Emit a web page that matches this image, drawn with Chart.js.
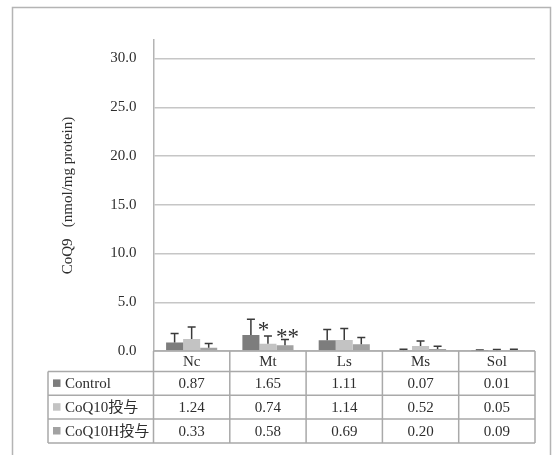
<!DOCTYPE html>
<html>
<head>
<meta charset="utf-8">
<script src="https://cdn.jsdelivr.net/npm/chart.js@4/dist/chart.umd.min.js"></script>
<style>
    html, body { margin: 0; padding: 0; background: #fff; }
    canvas { display: block; }
</style>
</head>
<body>
<canvas id="chart" width="553" height="455"></canvas>
<script>
const categories = ['Nc', 'Mt', 'Ls', 'Ms', 'Sol'];
const seriesNames = ['Control', 'CoQ10投与', 'CoQ10H投与'];
const controlValues = [0.87, 1.65, 1.11, 0.07, 0.01];
const coq10Values = [1.24, 0.74, 1.14, 0.52, 0.05];
const coq10hValues = [0.33, 0.58, 0.69, 0.20, 0.09];
// upper error bars (SD)
const controlErrors = [0.92, 1.61, 1.09, 0.10, 0.08];
const coq10Errors = [1.23, 0.80, 1.16, 0.51, 0.10];
const coq10hErrors = [0.43, 0.59, 0.69, 0.28, 0.10];
const yTicks = [0, 5, 10, 15, 20, 25, 30];
const significance = [
    { category: 'Mt', series: 1, text: '*' },
    { category: 'Mt', series: 2, text: '**' }
];

const SERIF = "'Liberation Serif', 'Noto Sans CJK JP', serif";
const TEXT_COLOR = '#2e2e2e';
const LINE_COLOR = '#a9a9a9';

const errorSets = [controlErrors, coq10Errors, coq10hErrors];

const framePlugin = {
    id: 'frame',
    beforeDraw(chart) {
        const ctx = chart.ctx;
        ctx.save();
        ctx.fillStyle = '#fff';
        ctx.fillRect(0, 0, chart.width, chart.height);
        ctx.strokeStyle = '#b4b4b4';
        ctx.lineWidth = 1.5;
        ctx.strokeRect(12.5, 7.5, 538, 470);
        ctx.restore();
    }
};

const errorBarPlugin = {
    id: 'errorBars',
    afterDatasetsDraw(chart) {
        const ctx = chart.ctx;
        const y = chart.scales.y;
        ctx.save();
        ctx.strokeStyle = '#3a3a3a';
        ctx.lineWidth = 1.5;
        chart.data.datasets.forEach((ds, di) => {
            const meta = chart.getDatasetMeta(di);
            meta.data.forEach((bar, i) => {
                const top = y.getPixelForValue(ds.data[i] + errorSets[di][i]);
                ctx.beginPath();
                ctx.moveTo(bar.x, bar.y);
                ctx.lineTo(bar.x, top);
                ctx.moveTo(bar.x - 4, top);
                ctx.lineTo(bar.x + 4, top);
                ctx.stroke();
            });
        });

        // significance marks next to the Mt bars
        ctx.fillStyle = TEXT_COLOR;
        ctx.font = '23px ' + SERIF;
        ctx.textAlign = 'center';
        ctx.textBaseline = 'alphabetic';
        significance.forEach(s => {
            const i = categories.indexOf(s.category);
            const bar = chart.getDatasetMeta(s.series).data[i];
            const top = y.getPixelForValue(chart.data.datasets[s.series].data[i] + errorSets[s.series][i]);
            if (s.text === '*') {
                ctx.fillText(s.text, bar.x - 4.5, top + 1.5);
            } else {
                ctx.fillText(s.text, bar.x + 2.5, top + 4.5);
            }
        });
        ctx.restore();
    }
};

const dataTablePlugin = {
    id: 'dataTable',
    afterDraw(chart) {
        const ctx = chart.ctx;
        const x = chart.scales.x;
        const area = chart.chartArea;
        const catW = (area.right - area.left) / categories.length;
        const headerBottom = area.bottom + 20.5;
        const rowH = 23.8;
        const tableBottom = headerBottom + rowH * seriesNames.length;
        const labelLeft = 48;

        ctx.save();
        ctx.strokeStyle = LINE_COLOR;
        ctx.lineWidth = 1.5;
        ctx.beginPath();
        for (let i = 0; i <= categories.length; i++) {
            const cx = area.left + catW * i;
            ctx.moveTo(cx, area.bottom);
            ctx.lineTo(cx, tableBottom);
        }
        ctx.moveTo(labelLeft, headerBottom);
        ctx.lineTo(labelLeft, tableBottom);
        ctx.moveTo(area.left, area.bottom);
        ctx.lineTo(area.right, area.bottom);
        for (let r = 0; r <= seriesNames.length; r++) {
            const ry = headerBottom + rowH * r;
            ctx.moveTo(labelLeft, ry);
            ctx.lineTo(area.right, ry);
        }
        ctx.stroke();

        ctx.fillStyle = TEXT_COLOR;
        ctx.font = '15px ' + SERIF;
        ctx.textBaseline = 'middle';
        ctx.textAlign = 'center';
        categories.forEach((c, i) => {
            ctx.fillText(c, x.getPixelForValue(i), (area.bottom + headerBottom) / 2 + 1);
        });

        chart.data.datasets.forEach((ds, r) => {
            const cy = headerBottom + rowH * r + rowH / 2 + 1;
            ctx.textAlign = 'center';
            ctx.fillStyle = TEXT_COLOR;
            ds.data.forEach((v, i) => {
                ctx.fillText(v.toFixed(2), x.getPixelForValue(i), cy);
            });
            ctx.fillStyle = ds.backgroundColor;
            ctx.fillRect(53, cy - 5, 7.5, 7.5);
            ctx.fillStyle = TEXT_COLOR;
            ctx.textAlign = 'left';
            ctx.fillText(ds.label, 65, cy);
        });
        ctx.restore();
    }
};

new Chart(document.getElementById('chart').getContext('2d'), {
    type: 'bar',
    data: {
        labels: categories,
        datasets: [
            { label: seriesNames[0], data: controlValues, backgroundColor: '#7d7d7d' },
            { label: seriesNames[1], data: coq10Values, backgroundColor: '#c3c3c3' },
            { label: seriesNames[2], data: coq10hValues, backgroundColor: '#a2a2a2' }
        ]
    },
    options: {
        responsive: false,
        animation: false,
        layout: { padding: { top: 40, right: 18, left: 0, bottom: 0 } },
        datasets: {
            bar: { barPercentage: 1.0, categoryPercentage: 0.67 }
        },
        plugins: {
            legend: { display: false },
            tooltip: { enabled: false }
        },
        scales: {
            x: {
                grid: { display: false },
                border: { display: false },
                ticks: { display: false },
                afterFit(scale) { scale.height = 104; }
            },
            y: {
                min: 0,
                max: 31.9,
                afterBuildTicks(scale) {
                    scale.ticks = yTicks.map(v => ({ value: v }));
                },
                afterFit(scale) { scale.width = 153.5; },
                grid: { color: '#c6c6c6', lineWidth: 1.5, drawTicks: false },
                border: { color: '#b4b4b4', width: 1.5 },
                ticks: {
                    padding: 17,
                    color: TEXT_COLOR,
                    font: { family: SERIF, size: 15 },
                    callback: v => v.toFixed(1)
                },
                title: {
                    display: true,
                    text: 'CoQ9   (nmol/mg protein)',
                    color: TEXT_COLOR,
                    font: { family: SERIF, size: 15 },
                    padding: { top: 59, bottom: 0 }
                }
            }
        }
    },
    plugins: [framePlugin, errorBarPlugin, dataTablePlugin]
});
</script>
</body>
</html>
